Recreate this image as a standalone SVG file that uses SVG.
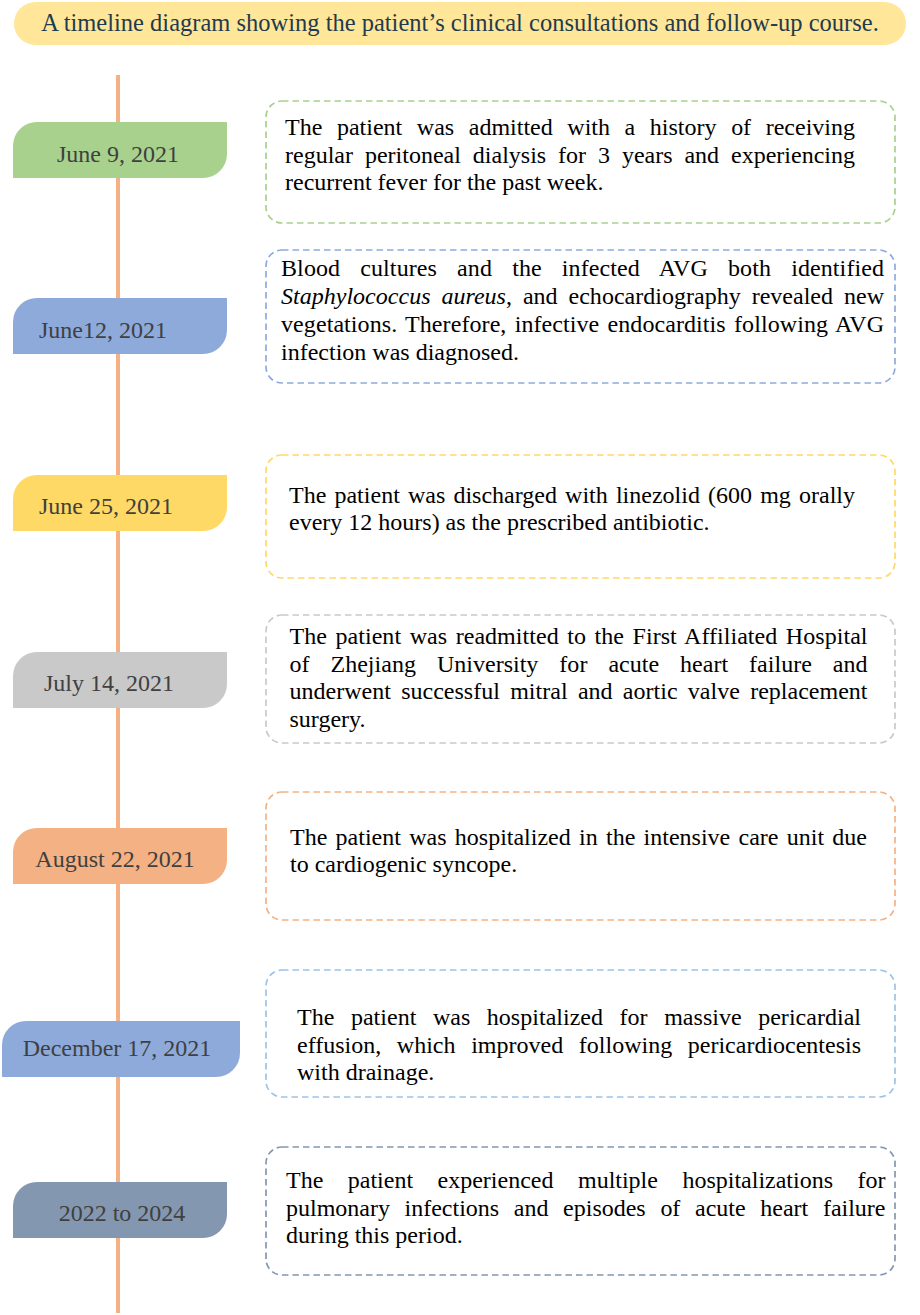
<svg xmlns="http://www.w3.org/2000/svg" width="920" height="1315" viewBox="0 0 920 1315">
<style>
.body{font-family:"Liberation Serif","Times New Roman",serif;font-size:24px;fill:#000}
.tabt{font-family:"Liberation Serif","Times New Roman",serif;font-size:24px;fill:#404040;text-anchor:middle}
.box{fill:#fff;stroke-width:1.7;stroke-dasharray:6.5 4}
.title{font-family:"Liberation Serif","Times New Roman",serif;font-size:24.5px;fill:#1f3b4d;text-anchor:middle}
</style>
<rect width="920" height="1315" fill="#fff"/>
<g id="title">
<rect x="14" y="2" width="892" height="43" rx="21.5" fill="#ffe699"/>
<text class="title" x="460" y="31">A timeline diagram showing the patient’s clinical consultations and follow-up course.</text>
</g>
<g id="connectors">
<line x1="118" y1="75" x2="118" y2="1313" stroke="#f4b183" stroke-width="4"/>
</g>
<g id="event1">
<path d="M13,178 V146 A24,24 0 0 1 37,122 H227 V154 A24,24 0 0 1 203,178 Z" fill="#a9d18e"/>
<text class="tabt" x="118" y="162">June 9, 2021</text>
<rect class="box" x="266" y="101" width="629" height="122" rx="16" stroke="#a9d18e"/>
<text class="body" x="285" y="135" word-spacing="8.6" textLength="570" lengthAdjust="spacing">The patient was admitted with a history of receiving</text>
<text class="body" x="285" y="163" word-spacing="5.9" textLength="570" lengthAdjust="spacing">regular peritoneal dialysis for 3 years and experiencing</text>
<text class="body" x="285" y="190">recurrent fever for the past week.</text>
</g>
<g id="event2">
<path d="M13,354 V322 A24,24 0 0 1 37,298 H227 V330 A24,24 0 0 1 203,354 Z" fill="#8eaadb"/>
<text class="tabt" x="103" y="338">June12, 2021</text>
<rect class="box" x="266" y="250" width="629" height="133" rx="16" stroke="#8eaadb"/>
<text class="body" x="281" y="275.5" word-spacing="14" textLength="603" lengthAdjust="spacing">Blood cultures and the infected AVG both identified</text>
<text class="body" x="281" y="304" word-spacing="4.9" textLength="603" lengthAdjust="spacing"><tspan font-style="italic">Staphylococcus aureus</tspan>, and echocardiography revealed new</text>
<text class="body" x="281" y="332" word-spacing="2.1" textLength="603" lengthAdjust="spacing">vegetations. Therefore, infective endocarditis following AVG</text>
<text class="body" x="281" y="360">infection was diagnosed.</text>
</g>
<g id="event3">
<path d="M13,531 V499 A24,24 0 0 1 37,475 H227 V507 A24,24 0 0 1 203,531 Z" fill="#ffd966"/>
<text class="tabt" x="106" y="514">June 25, 2021</text>
<rect class="box" x="266" y="455" width="629" height="123" rx="16" stroke="#ffd966"/>
<text class="body" x="289" y="503" word-spacing="2.1" textLength="566" lengthAdjust="spacing">The patient was discharged with linezolid (600 mg orally</text>
<text class="body" x="289" y="530">every 12 hours) as the prescribed antibiotic.</text>
</g>
<g id="event4">
<path d="M13,708 V676 A24,24 0 0 1 37,652 H227 V684 A24,24 0 0 1 203,708 Z" fill="#c9c9c9"/>
<text class="tabt" x="109" y="691">July 14, 2021</text>
<rect class="box" x="266" y="615" width="629" height="128" rx="16" stroke="#c9c9c9"/>
<text class="body" x="289.5" y="644" word-spacing="2.5" textLength="578" lengthAdjust="spacing">The patient was readmitted to the First Affiliated Hospital</text>
<text class="body" x="289.5" y="671.5" word-spacing="15" textLength="578" lengthAdjust="spacing">of Zhejiang University for acute heart failure and</text>
<text class="body" x="289.5" y="699" word-spacing="4.3" textLength="578" lengthAdjust="spacing">underwent successful mitral and aortic valve replacement</text>
<text class="body" x="289.5" y="726.5">surgery.</text>
</g>
<g id="event5">
<path d="M13,884 V852 A24,24 0 0 1 37,828 H227 V860 A24,24 0 0 1 203,884 Z" fill="#f4b183"/>
<text class="tabt" x="115" y="867">August 22, 2021</text>
<rect class="box" x="266" y="792" width="629" height="128" rx="16" stroke="#f4b183"/>
<text class="body" x="290" y="845" word-spacing="2.3" textLength="577" lengthAdjust="spacing">The patient was hospitalized in the intensive care unit due</text>
<text class="body" x="290" y="872">to cardiogenic syncope.</text>
</g>
<g id="event6">
<path d="M2,1077 V1045 A24,24 0 0 1 26,1021 H240 V1053 A24,24 0 0 1 216,1077 Z" fill="#8eaadb"/>
<text class="tabt" x="117" y="1056">December 17, 2021</text>
<rect class="box" x="266" y="970" width="629" height="127" rx="16" stroke="#9dc3e6"/>
<text class="body" x="297" y="1025" word-spacing="10.5" textLength="564" lengthAdjust="spacing">The patient was hospitalized for massive pericardial</text>
<text class="body" x="297" y="1052.5" word-spacing="9.7" textLength="564" lengthAdjust="spacing">effusion, which improved following pericardiocentesis</text>
<text class="body" x="297" y="1080">with drainage.</text>
</g>
<g id="event7">
<path d="M13,1238 V1206 A24,24 0 0 1 37,1182 H227 V1214 A24,24 0 0 1 203,1238 Z" fill="#8497b0"/>
<text class="tabt" x="122" y="1221">2022 to 2024</text>
<rect class="box" x="266" y="1147" width="629" height="128" rx="16" stroke="#8497b0"/>
<text class="body" x="286" y="1188" word-spacing="18.5" textLength="599.5" lengthAdjust="spacing">The patient experienced multiple hospitalizations for</text>
<text class="body" x="286" y="1215.5" word-spacing="8.7" textLength="599.5" lengthAdjust="spacing">pulmonary infections and episodes of acute heart failure</text>
<text class="body" x="286" y="1243">during this period.</text>
</g>
</svg>
